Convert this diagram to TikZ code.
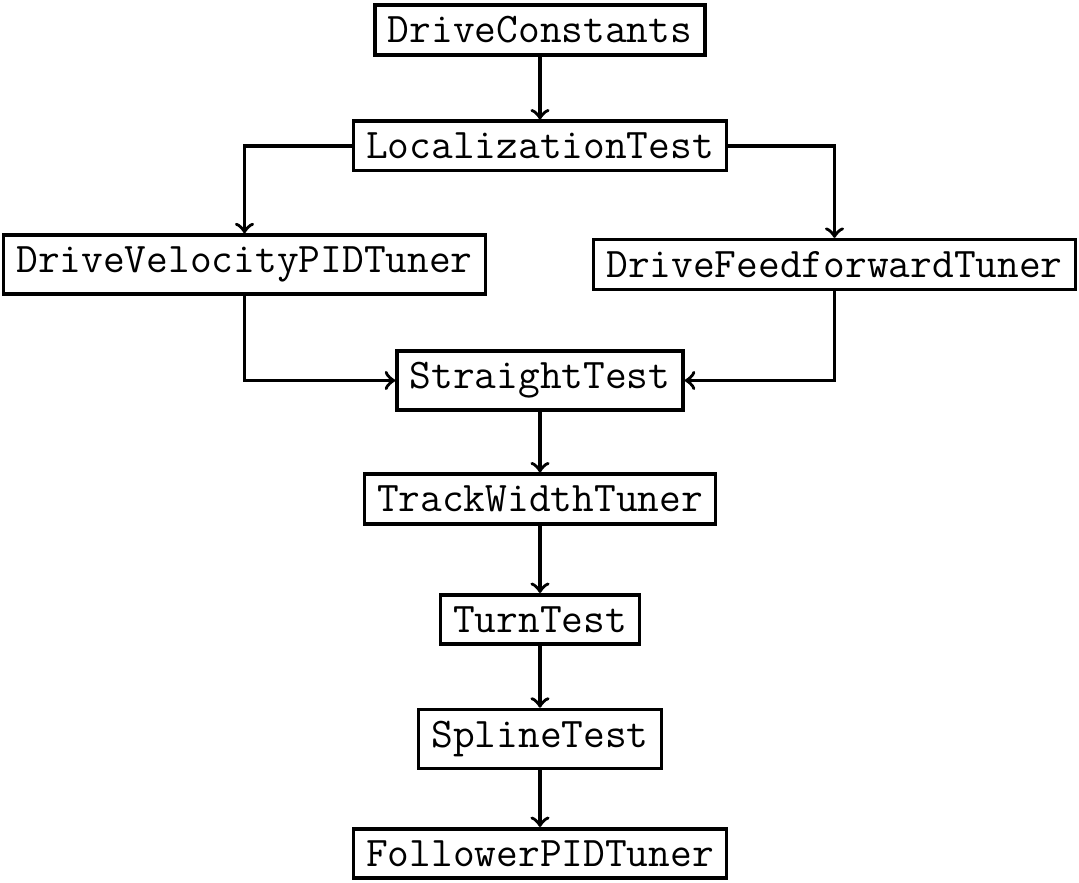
\documentclass[tikz,border=0pt]{standalone}
\begin{document}
\begin{tikzpicture}[x=0.01cm,y=-0.01cm,
  box/.style={draw,line width=1pt,font=\fontsize{12}{14}\selectfont\ttfamily,inner xsep=0.36em,inner ysep=0.3333em},
  conn/.style={->,line width=1pt}]
\useasboundingbox (0,0) rectangle (1079,883);
\node[box] (dc) at (540,30) {DriveConstants};
\node[box] (lt) at (540,146) {LocalizationTest};
\node[box] (dv) at (244.5,264.5) {DriveVelocityPIDTuner};
\node[box] (df) at (834.5,264.5) {DriveFeedforwardTuner};
\node[box] (st) at (540,380.5) {StraightTest};
\node[box] (tw) at (540,499) {TrackWidthTuner};
\node[box] (tt) at (540,619.5) {TurnTest};
\node[box] (sp) at (540,739) {SplineTest};
\node[box] (fp) at (540,853.5) {FollowerPIDTuner};
\draw[conn] (dc) -- (lt);
\draw[conn] (lt.west) -| (dv.north);
\draw[conn] (lt.east) -| (df.north);
\draw[conn] (dv.south) |- (st.west);
\draw[conn] (df.south) |- (st.east);
\draw[conn] (st) -- (tw);
\draw[conn] (tw) -- (tt);
\draw[conn] (tt) -- (sp);
\draw[conn] (sp) -- (fp);
\end{tikzpicture}
\end{document}
